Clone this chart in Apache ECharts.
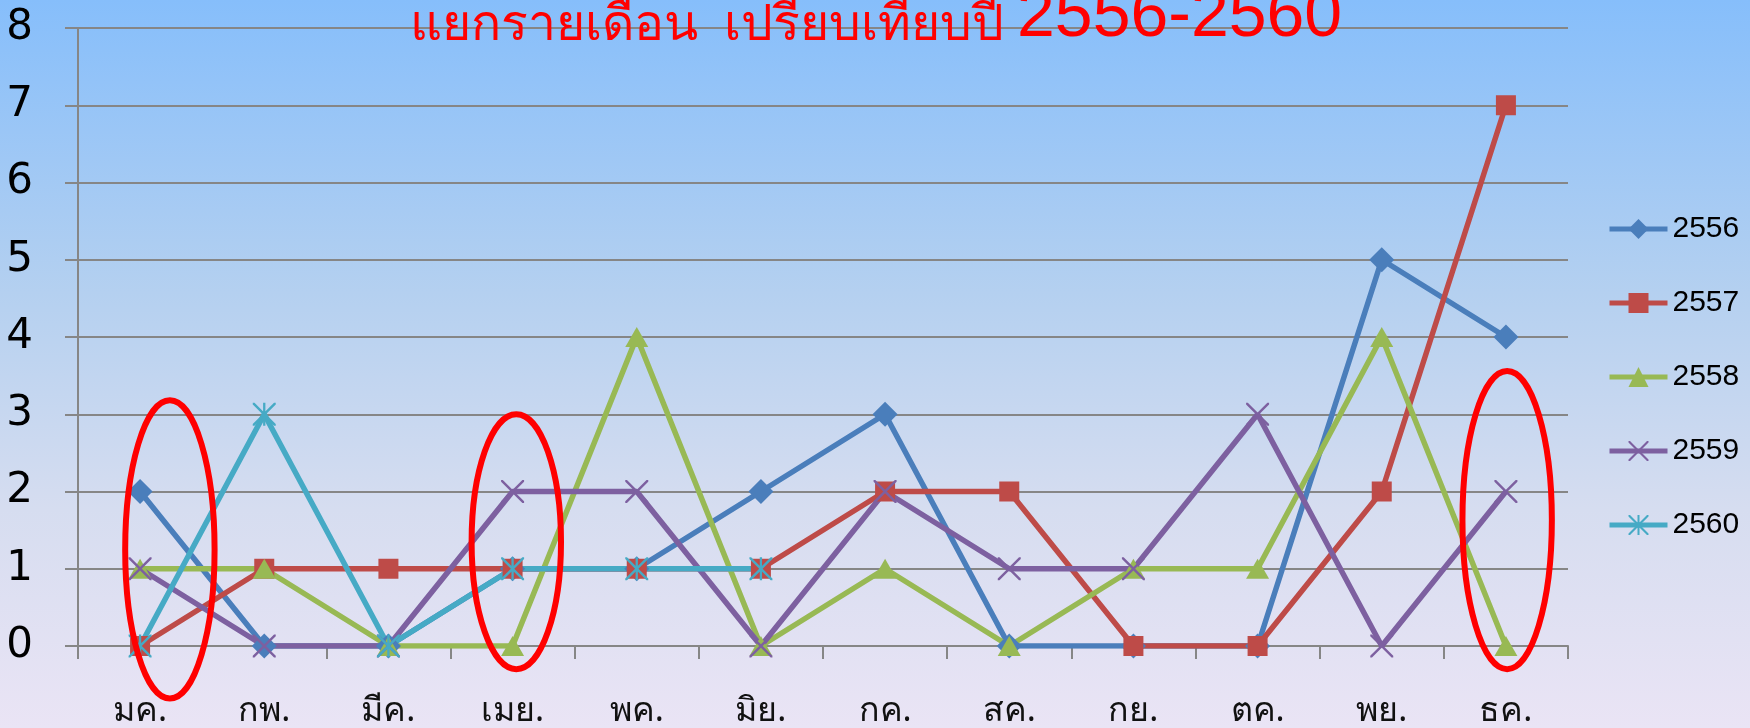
<!DOCTYPE html>
<html><head><meta charset="utf-8">
<script src="https://cdn.jsdelivr.net/npm/echarts@6/dist/echarts.min.js"></script>
<style>
html,body{margin:0;padding:0;}
#c{width:1750px;height:728px;background:linear-gradient(to bottom,#86BEFB 0%,#B4D0F0 40%,#D6DDF0 70%,#EAE4F5 100%);}
</style>
</head><body><div id="c"></div>
<script>
const months = ['มค.','กพ.','มีค.','เมย.','พค.','มิย.','กค.','สค.','กย.','ตค.','พย.','ธค.'];
const seriesNames = ['2556','2557','2558','2559','2560'];
const v2556 = [2,0,0,1,1,2,3,0,0,0,5,4];
const v2557 = [0,1,1,1,1,1,2,2,0,0,2,7];
const v2558 = [1,1,0,0,4,0,1,0,1,1,4,0];
const v2559 = [1,0,0,2,2,0,2,1,1,3,0,2];
const v2560 = [0,3,0,1,1,1,null,null,null,null,null,null];
const yMin = 0, yMax = 8, yStep = 1;
const titleThai = 'แยกรายเดือน  เปรียบเทียบปี ';
const titleYears = '2556-2560';
// red highlight ellipses: month index, centre value, half-height in value units
const highlights = [
  {month:0, centre:1.25, half:1.93},
  {month:3, centre:1.35, half:1.65},
  {month:11, centre:1.63, half:1.93}
];

const colors = ['#4A7EBB','#BE4B48','#98B954','#7D60A0','#46AAC5'];
const xPath = 'path://M0,0 L1.5,0 L10,8.5 L18.5,0 L20,0 L20,1.5 L11.5,10 L20,18.5 L20,20 L18.5,20 L10,11.5 L1.5,20 L0,20 L0,18.5 L8.5,10 L0,1.5 Z';
const starPath = 'path://M0,0 L1.5,0 L10,8.5 L18.5,0 L20,0 L20,1.5 L11.5,10 L20,18.5 L20,20 L18.5,20 L10,11.5 L1.5,20 L0,20 L0,18.5 L8.5,10 L0,1.5 Z M9,0 L11,0 L11,20 L9,20 Z';
const symbols = ['diamond','rect','triangle',xPath,starPath];
const symSizes = [[25,25],[20,20],[23,20],[23,23],[23,23]];
const values = [v2556,v2557,v2558,v2559,v2560];

const chart = echarts.init(document.getElementById('c'), null, {renderer:'canvas'});
const gridColor = '#868686';
chart.setOption({
  backgroundColor: 'transparent',
  animation: false,
  color: colors,
  title: {
    text: '{th|' + titleThai + '}{yr|' + titleYears + '}', left: 405, top: -30,
    textStyle: {
      color:'#FF0000', fontWeight:'normal', fontFamily:'Liberation Sans',
      rich: {
        th: {fontSize:50, color:'#FF0000', fontFamily:'Noto Sans', verticalAlign:'bottom', lineHeight:76},
        yr: {fontSize:68, color:'#FF0000', fontFamily:'Liberation Sans', verticalAlign:'bottom', lineHeight:76}
      }
    }
  },
  legend: {
    orient:'vertical', left:1602, top:209, itemWidth:58, itemHeight:25, itemGap:44,
    textStyle:{fontSize:30, color:'#000', fontFamily:'Liberation Sans'},
    lineStyle:{width:5},
    data: seriesNames
  },
  grid: {left:78, right:182, top:28, bottom:77, containLabel:false},
  xAxis: {
    type:'category', data: months, boundaryGap:true,
    axisLine:{lineStyle:{color:gridColor, width:2}},
    axisTick:{show:true, length:13, lineStyle:{color:gridColor, width:2}},
    axisLabel:{fontSize:34, color:'#111', margin:48, fontFamily:'Noto Sans', interval:0}
  },
  yAxis: {
    type:'value', min:yMin, max:yMax, interval:yStep,
    axisLine:{show:true, lineStyle:{color:gridColor, width:2}},
    axisTick:{show:true, length:13, lineStyle:{color:gridColor, width:2}},
    splitLine:{lineStyle:{color:gridColor, width:2}},
    axisLabel:{fontSize:42, color:'#000', margin:45, fontFamily:'DejaVu Sans'}
  },
  series: seriesNames.map((n,i)=>({
    name:n, type:'line', data: values[i],
    symbol: symbols[i], symbolSize: symSizes[i], showAllSymbol:true,
    lineStyle:{width:5.5, color:colors[i]},
    itemStyle:{color:colors[i]},
    connectNulls:false
  }))
});

function drawHighlights(){
  const els = highlights.map(h=>{
    const c = chart.convertToPixel({xAxisIndex:0,yAxisIndex:0},[h.month,h.centre]);
    const t = chart.convertToPixel({xAxisIndex:0,yAxisIndex:0},[h.month,h.centre+h.half]);
    const catW = (chart.convertToPixel({xAxisIndex:0},1) - chart.convertToPixel({xAxisIndex:0},0));
    const shift = h.month===0 ? catW*0.24 : (h.month===3 ? catW*0.03 : catW*0.01);
    return {type:'ellipse', shape:{cx:c[0]+shift, cy:c[1], rx:catW*0.36, ry:c[1]-t[1]},
      style:{fill:'none', stroke:'#FF0000', lineWidth:6}, z:100, silent:true};
  });
  chart.setOption({graphic: els});
}
drawHighlights();
</script>
</body></html>
